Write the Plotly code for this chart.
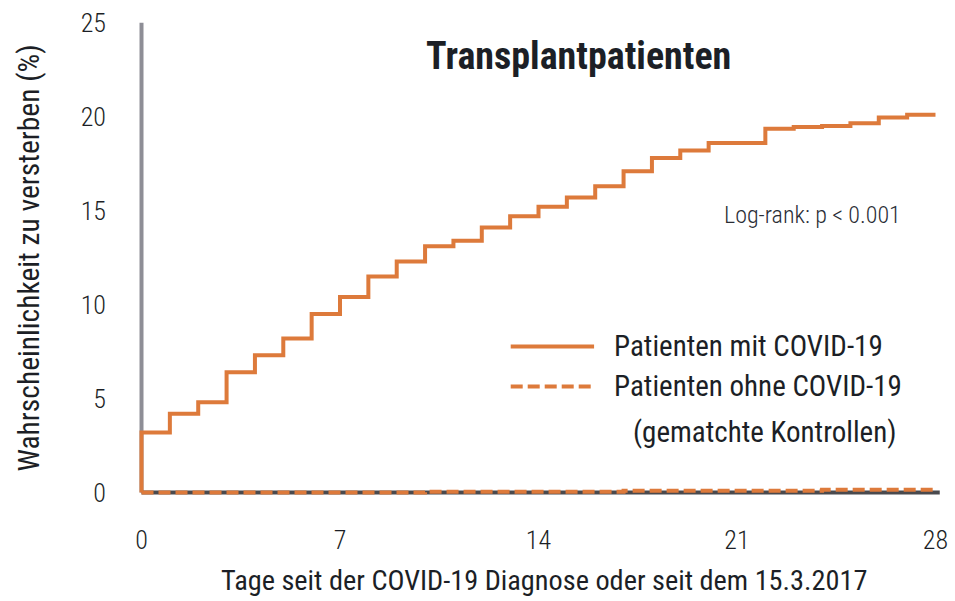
import plotly.graph_objects as go

# ---- data ----
days = list(range(0, 29))
covid_pct = [3.2, 4.2, 4.8, 6.4, 7.3, 8.2, 9.5, 10.4, 11.5, 12.3,
             13.1, 13.4, 14.1, 14.7, 15.2, 15.7, 16.3, 17.1, 17.8, 18.2,
             18.6, 18.6, 19.35, 19.45, 19.5, 19.65, 19.95, 20.1, 20.1]
control_days = [0, 10, 17, 24, 28]
control_pct = [0.0, 0.05, 0.1, 0.15, 0.15]
x_ticks = [0, 7, 14, 21, 28]
y_ticks = [0, 5, 10, 15, 20, 25]

title_text = "Transplantpatienten"
legend_labels = ["Patienten mit COVID-19", "Patienten ohne COVID-19", "(gematchte Kontrollen)"]
logrank_text = "Log-rank: p < 0.001"
x_title = "Tage seit der COVID-19 Diagnose oder seit dem 15.3.2017"
y_title = "Wahrscheinlichkeit zu versterben (%)"

ORANGE = "#DD7A3B"
TEXT = "#1c1f26"
FONT = "Roboto Condensed, Liberation Sans Narrow, sans-serif"
FONT_LIGHT = "Roboto Condensed Light, Roboto Condensed, sans-serif"
DASH = "12px,5px"

fig = go.Figure()
fig.add_trace(go.Scatter(
    x=[0] + days, y=[0] + covid_pct, mode="lines", line_shape="hv",
    line=dict(color=ORANGE, width=4), showlegend=False, hoverinfo="skip"))
fig.add_trace(go.Scatter(
    x=control_days, y=control_pct, mode="lines", line_shape="hv",
    line=dict(color=ORANGE, width=4, dash=DASH), showlegend=False, hoverinfo="skip"))

shapes = [
    dict(type="line", xref="x", yref="y", x0=0, x1=0, y0=0, y1=25,
         line=dict(color="#8E8E96", width=4), layer="below"),
    dict(type="line", xref="x", yref="y", x0=0, x1=28.15, y0=0, y1=0,
         line=dict(color="#4a4a4e", width=4), layer="below"),
    # legend samples
    dict(type="line", xref="x", yref="y", x0=13.02, x1=15.96, y0=7.77, y1=7.77,
         line=dict(color=ORANGE, width=4)),
    dict(type="line", xref="x", yref="y", x0=13.02, x1=15.96, y0=5.64, y1=5.64,
         line=dict(color=ORANGE, width=4, dash=DASH)),
]

annotations = [
    dict(text="<b>" + title_text + "</b>", x=15.4, y=23.2, xref="x", yref="y",
         showarrow=False, xanchor="center", yanchor="middle",
         font=dict(family=FONT, size=38, color=TEXT)),
    dict(text=logrank_text, x=20.46, y=14.75, xref="x", yref="y",
         showarrow=False, xanchor="left", yanchor="middle",
         font=dict(family=FONT_LIGHT, size=24, color="#2a2d35")),
    dict(text=legend_labels[0], x=16.6, y=7.8, xref="x", yref="y",
         showarrow=False, xanchor="left", yanchor="middle",
         font=dict(family=FONT, size=29, color=TEXT)),
    dict(text=legend_labels[1], x=16.6, y=5.67, xref="x", yref="y",
         showarrow=False, xanchor="left", yanchor="middle",
         font=dict(family=FONT, size=29, color=TEXT)),
    dict(text=legend_labels[2], x=17.26, y=3.2, xref="x", yref="y",
         showarrow=False, xanchor="left", yanchor="middle",
         font=dict(family=FONT, size=29, color=TEXT)),
    dict(text=x_title, x=(546 - 133) / 815, y=(502 - 580) / 485, xref="paper", yref="paper",
         showarrow=False, xanchor="center", yanchor="middle",
         font=dict(family=FONT, size=28.3, color=TEXT)),
    dict(text=y_title, x=(28 - 133) / 815, y=(502 - 258) / 485, xref="paper", yref="paper",
         showarrow=False, xanchor="center", yanchor="middle", textangle=-90,
         font=dict(family=FONT, size=29.5, color=TEXT)),
]

fig.update_layout(
    width=955, height=601,
    margin=dict(l=133, r=7, t=17, b=99),
    paper_bgcolor="white", plot_bgcolor="white",
    shapes=shapes, annotations=annotations,
    xaxis=dict(range=[-0.3, 28.3], tickvals=x_ticks, showgrid=False, zeroline=False,
               showline=False, ticks="", ticklabelstandoff=20,
               tickfont=dict(family=FONT_LIGHT, size=26, color=TEXT)),
    yaxis=dict(range=[-0.5, 25.3], tickvals=y_ticks, showgrid=False, zeroline=False,
               showline=False, ticks="", ticklabelstandoff=26,
               tickfont=dict(family=FONT_LIGHT, size=26, color=TEXT)),
)

# remove the default page margin so the figure sits at the top-left corner
fig.write_html("out.html", config={"displayModeBar": False},
               post_script="document.body.style.margin='0px';document.body.style.overflow='hidden';")
